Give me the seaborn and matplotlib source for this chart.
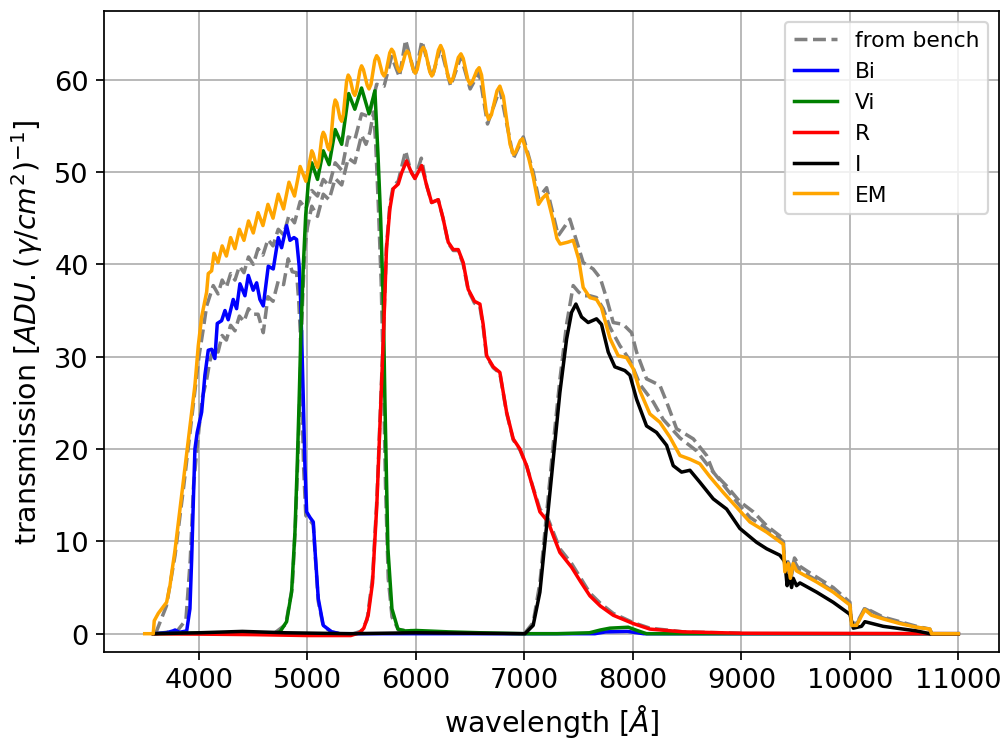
"""Filter transmission curves (Bi, Vi, R, I, EM) with the bench measurements."""
import matplotlib

matplotlib.use("Agg")
import matplotlib.pyplot as plt
import seaborn as sns

# (wavelength [A], transmission)
EM = [(3500, 0.0), (3579, 0.0), (3588, 1.4), (3625, 2.2), (3702, 3.4), (3733, 5.2), (3748, 6.5),
      (3779, 9.0), (3855, 16.4), (3917, 22.5), (3963, 26.9), (3994, 31.2), (4025, 34.3), (4071, 37.0),
      (4086, 39.0), (4117, 39.3), (4139, 41.2), (4176, 40.2), (4214, 42.0), (4253, 40.9), (4292, 42.9),
      (4332, 41.7), (4373, 43.8), (4415, 42.6), (4457, 44.7), (4501, 43.4), (4545, 45.6), (4590, 44.2),
      (4636, 46.5), (4683, 45.0), (4731, 47.6), (4780, 46.0), (4830, 48.9), (4881, 47.4), (4933, 50.6),
      (4986, 49.0), (5040, 52.3), (5053, 52.0), (5080, 50.8), (5093, 50.5), (5106, 51.1), (5133, 53.8),
      (5146, 54.3), (5160, 54.0), (5187, 52.7), (5200, 52.4), (5214, 53.2), (5242, 57.0), (5256, 57.8),
      (5271, 57.5), (5301, 55.8), (5316, 55.5), (5331, 56.2), (5361, 59.8), (5376, 60.5), (5391, 60.2),
      (5422, 58.6), (5437, 58.3), (5452, 58.8), (5484, 61.0), (5499, 61.5), (5516, 61.1), (5551, 59.4),
      (5568, 59.0), (5586, 59.5), (5621, 62.1), (5638, 62.6), (5655, 62.3), (5690, 60.7), (5707, 60.4),
      (5724, 60.8), (5759, 62.9), (5776, 63.3), (5794, 63.0), (5830, 61.3), (5848, 60.9), (5866, 61.2),
      (5902, 62.8), (5920, 63.1), (5938, 62.8), (5975, 61.1), (5993, 60.7), (6012, 61.1), (6048, 63.1),
      (6067, 63.5), (6087, 63.1), (6127, 60.9), (6147, 60.4), (6167, 60.9), (6208, 63.2), (6228, 63.7),
      (6251, 63.1), (6297, 60.3), (6320, 59.7), (6344, 60.2), (6391, 62.4), (6415, 62.8), (6436, 62.3),
      (6479, 60.0), (6500, 59.5), (6521, 59.8), (6562, 61.0), (6583, 61.3), (6605, 60.5), (6648, 56.5),
      (6670, 55.7), (6696, 56.2), (6748, 58.8), (6774, 59.3), (6806, 58.2), (6868, 53.0), (6900, 51.9),
      (6921, 52.2), (6962, 53.4), (6983, 53.6), (7040, 51.5), (7081, 49.5), (7130, 46.5), (7170, 47.2),
      (7205, 47.6), (7260, 45.0), (7300, 42.8), (7330, 42.2), (7400, 42.4), (7450, 42.6), (7500, 40.6),
      (7542, 37.5), (7604, 36.4), (7665, 36.2), (7711, 35.3), (7788, 32.0), (7865, 30.1), (7942, 29.9),
      (8003, 28.7), (8065, 26.3), (8157, 23.8), (8249, 22.9), (8341, 21.3), (8434, 19.3), (8526, 18.9),
      (8618, 18.4), (8710, 17.0), (8833, 15.3), (8956, 13.7), (9079, 12.1), (9233, 11.0), (9386, 9.7),
      (9401, 6.7), (9432, 7.6), (9452, 6.0), (9478, 7.6), (9509, 6.8), (9540, 6.6), (9694, 5.6),
      (9847, 4.5), (10001, 3.1), (10016, 0.9), (10062, 0.9), (10093, 1.6), (10139, 2.6), (10200, 2.0),
      (10307, 1.6), (10461, 1.1), (10615, 0.7), (10738, 0.5), (10753, 0.0), (11000, 0.0)]

BI = [(3580, 0.0), (3700, 0.1), (3760, 0.3), (3780, 0.4), (3820, 0.15), (3887, 0.3), (3917, 2.7),
      (3933, 8.1), (3950, 15.0), (3963, 20.0), (3984, 21.8), (4025, 24.0), (4055, 28.0), (4086, 30.7),
      (4117, 30.8), (4147, 29.8), (4169, 33.6), (4209, 33.9), (4240, 35.0), (4270, 34.0), (4316, 36.2),
      (4347, 35.2), (4378, 37.9), (4424, 36.6), (4455, 38.8), (4500, 37.2), (4532, 38.0), (4562, 36.2),
      (4593, 35.5), (4639, 39.8), (4685, 39.5), (4731, 42.9), (4762, 41.8), (4808, 44.2), (4839, 42.6),
      (4876, 42.9), (4900, 42.7), (4924, 39.8), (4937, 36.2), (4946, 32.6), (4962, 25.4), (4977, 18.2),
      (4993, 13.2), (5023, 12.6), (5054, 12.1), (5069, 9.2), (5100, 3.8), (5146, 0.9), (5223, 0.2),
      (5300, 0.0), (7650, 0.0), (7750, 0.2), (7950, 0.25), (8100, 0.0), (11000, 0.0)]

VI = [(3580, 0.0), (4000, 0.05), (4700, 0.05), (4747, 0.2), (4808, 1.3), (4854, 4.5), (4885, 11.0),
      (4906, 18.2), (4924, 25.4), (4940, 32.6), (4962, 39.8), (4984, 45.3), (5008, 48.8), (5040, 51.0),
      (5093, 49.2), (5146, 52.3), (5200, 50.8), (5256, 54.6), (5316, 53.0), (5380, 58.5), (5437, 56.8),
      (5499, 59.1), (5568, 56.3), (5622, 58.8), (5650, 52.0), (5675, 45.0), (5699, 36.0), (5714, 25.4),
      (5742, 9.2), (5779, 2.7), (5834, 0.5), (5900, 0.3), (6000, 0.35), (6300, 0.2), (6600, 0.1),
      (7000, 0.0), (7300, 0.0), (7600, 0.1), (7700, 0.4), (7788, 0.6), (7957, 0.7), (8050, 0.3),
      (8126, 0.0), (11000, 0.0)]

R = [(3580, 0.0), (4500, -0.1), (5000, -0.2), (5400, -0.2), (5480, 0.1), (5520, 0.6), (5560, 2.0),
     (5600, 5.5), (5640, 14.0), (5670, 23.0), (5700, 32.0), (5729, 41.7), (5760, 46.0), (5791, 48.2),
     (5837, 48.7), (5868, 49.9), (5914, 51.2), (5960, 49.9), (5991, 49.3), (6053, 50.7), (6100, 48.5),
     (6145, 46.7), (6206, 47.0), (6250, 45.0), (6298, 42.4), (6344, 41.6), (6390, 41.6), (6436, 40.2),
     (6482, 37.3), (6540, 36.0), (6590, 35.7), (6620, 33.5), (6652, 30.1), (6713, 28.9), (6774, 28.3),
     (6836, 24.0), (6897, 21.1), (6959, 20.0), (7020, 18.2), (7081, 15.7), (7143, 13.2), (7220, 12.1),
     (7270, 10.5), (7327, 8.8), (7435, 7.2), (7520, 5.6), (7604, 4.1), (7700, 3.0), (7819, 2.0),
     (8003, 1.1), (8157, 0.5), (8464, 0.2), (9000, 0.05), (11000, 0.0)]

I = [(3580, 0.0), (4000, 0.1), (4400, 0.25), (4800, 0.1), (5400, 0.0), (6000, 0.1), (7005, 0.0),
     (7081, 0.9), (7143, 4.5), (7205, 11.7), (7266, 18.9), (7327, 26.1), (7389, 31.9), (7435, 34.8),
     (7475, 35.7), (7527, 34.3), (7588, 33.7), (7665, 34.1), (7711, 33.5), (7773, 30.5), (7834, 28.9),
     (7926, 28.5), (7973, 28.0), (8034, 25.4), (8126, 22.5), (8218, 21.8), (8311, 20.4), (8372, 18.2),
     (8449, 17.5), (8526, 17.7), (8618, 16.4), (8741, 14.6), (8864, 13.5), (8986, 11.4), (9140, 9.9),
     (9233, 9.2), (9355, 8.5), (9401, 7.8), (9422, 5.2), (9440, 6.3), (9463, 5.0), (9478, 6.0),
     (9509, 5.2), (9540, 5.5), (9694, 4.5), (9847, 3.4), (10001, 2.1), (10032, 0.6), (10108, 0.8),
     (10139, 1.3), (10307, 0.8), (10615, 0.3), (10738, 0.0), (11000, 0.0)]

# bench measurements (grey dashed)
BENCH_EM = [(3600, 0.0), (3700, 3.0), (3780, 8.5), (3860, 16.0), (3920, 22.0), (3960, 26.0),
            (4000, 30.0), (4040, 33.0), (4071, 35.5), (4132, 37.7), (4176, 36.8), (4214, 38.3),
            (4253, 37.5), (4292, 39.0), (4332, 38.3), (4373, 39.8), (4415, 39.1), (4457, 40.8),
            (4501, 40.0), (4545, 41.7), (4590, 41.0), (4636, 42.7), (4683, 42.0), (4731, 43.8),
            (4780, 43.2), (4830, 45.3), (4881, 44.5), (4933, 46.8), (4986, 46.0), (5040, 48.0),
            (5093, 47.4), (5146, 49.2), (5200, 48.5), (5256, 51.0), (5316, 50.2), (5376, 53.8),
            (5437, 53.5), (5499, 56.3), (5568, 56.0), (5638, 59.5), (5707, 59.3), (5776, 62.5),
            (5848, 60.3), (5905, 64.3), (5993, 60.4), (6055, 64.2), (6147, 60.2), (6228, 63.5),
            (6320, 59.3), (6415, 62.5), (6500, 59.0), (6583, 60.8), (6660, 55.2), (6774, 59.0),
            (6900, 51.5), (6990, 53.8), (7081, 50.0), (7130, 47.2), (7205, 48.3), (7312, 43.1),
            (7419, 44.9), (7542, 40.2), (7634, 39.5), (7700, 38.5), (7758, 36.3), (7819, 33.7),
            (7911, 33.5), (7988, 32.6), (8034, 30.5), (8126, 27.6), (8249, 26.9), (8311, 25.1),
            (8403, 22.2), (8557, 21.1), (8680, 19.3), (8741, 17.5), (8864, 16.0), (8986, 14.3),
            (9110, 13.2), (9233, 11.7), (9386, 10.3), (9401, 7.2), (9430, 8.0), (9460, 6.5),
            (9490, 8.2), (9540, 7.3), (9617, 6.7), (9847, 5.0), (10001, 3.4), (10016, 1.2),
            (10062, 1.1), (10139, 2.8), (10307, 1.8), (10615, 0.8), (10738, 0.5), (10753, 0.0)]

BENCH_BI = [(3600, 0.0), (3800, 0.3), (3880, 1.5), (3920, 8.0), (3950, 16.0), (3990, 21.0),
            (4030, 25.5), (4071, 27.5), (4100, 29.5), (4139, 31.0), (4176, 30.5), (4214, 32.3),
            (4253, 31.8), (4292, 33.4), (4332, 32.8), (4373, 34.4), (4415, 33.8), (4457, 35.2),
            (4501, 34.6), (4545, 34.6), (4593, 32.6), (4636, 36.5), (4683, 36.0), (4731, 38.2),
            (4780, 37.8), (4823, 40.6), (4860, 39.2), (4900, 39.1), (4920, 36.0), (4935, 32.5),
            (4950, 25.0), (4965, 18.0), (4985, 12.8), (5023, 12.3), (5054, 11.8), (5069, 9.0),
            (5100, 3.5), (5146, 0.8), (5223, 0.2), (5300, 0.0)]

BENCH_VI = [(4700, 0.1), (4800, 1.0), (4860, 5.0), (4890, 12.0), (4915, 20.0), (4935, 28.0),
            (4955, 36.0), (4975, 41.5), (5000, 44.0), (5040, 46.3), (5093, 45.2), (5146, 47.6),
            (5200, 47.0), (5256, 49.3), (5316, 48.6), (5376, 51.5), (5437, 51.0), (5499, 54.0),
            (5540, 53.0), (5576, 54.3), (5610, 56.5), (5630, 53.0), (5655, 46.0), (5680, 38.0),
            (5700, 28.0), (5720, 16.0), (5745, 6.0), (5780, 1.8), (5840, 0.4), (6000, 0.3)]

BENCH_R = [(5400, -0.1), (5500, 0.3), (5550, 1.5), (5600, 6.0), (5640, 14.5), (5670, 23.5),
           (5700, 32.5), (5729, 42.0), (5760, 46.5), (5791, 48.5), (5837, 49.0), (5868, 50.5),
           (5905, 52.3), (5950, 50.2), (5991, 49.3), (6050, 51.5), (6100, 48.5), (6145, 46.7),
           (6206, 47.0), (6250, 45.0), (6298, 42.3), (6344, 41.5), (6390, 41.5), (6436, 40.0),
           (6482, 37.2), (6540, 35.8), (6590, 35.4), (6620, 33.2), (6652, 30.0), (6713, 28.8),
           (6774, 28.2), (6836, 23.9), (6897, 21.0), (6959, 19.9), (7020, 18.2), (7081, 15.8),
           (7143, 13.5), (7220, 12.4), (7270, 10.9), (7327, 9.2), (7435, 7.6), (7520, 6.0),
           (7604, 4.4), (7700, 3.3), (7819, 2.2), (8003, 1.2), (8157, 0.6), (8464, 0.2), (9000, 0.05)]

BENCH_I = [(7000, 0.0), (7081, 1.2), (7143, 5.5), (7205, 13.0), (7266, 20.5), (7327, 27.5),
           (7389, 33.5), (7450, 37.7), (7500, 37.0), (7542, 36.6), (7604, 36.6), (7665, 36.4),
           (7727, 35.2), (7788, 33.2), (7880, 31.2), (7973, 29.6), (8065, 27.0), (8188, 25.1),
           (8280, 23.2), (8434, 21.2), (8587, 19.8), (8680, 18.4), (8803, 16.6), (8956, 14.3),
           (9079, 12.6), (9233, 11.4), (9386, 10.0), (9401, 7.0), (9430, 7.8), (9460, 6.2),
           (9490, 7.8), (9540, 6.8), (9694, 5.8), (9847, 4.6), (10001, 3.2), (10016, 1.0),
           (10062, 1.0), (10139, 2.7), (10307, 1.7), (10615, 0.7), (10738, 0.5), (10753, 0.0)]

BANDS = [("Bi", BI, "blue"), ("Vi", VI, "green"), ("R", R, "red"), ("I", I, "black"),
         ("EM", EM, "orange")]
BENCH = [BENCH_EM, BENCH_BI, BENCH_VI, BENCH_R, BENCH_I]


def _draw(ax, curve, **kws):
    sns.lineplot(x=[p[0] for p in curve], y=[p[1] for p in curve], ax=ax,
                 estimator=None, linewidth=1.6, **kws)


fig, ax = plt.subplots(figsize=(6.395, 4.713), dpi=157)
fig.subplots_adjust(left=0.1036, right=0.995, top=0.984, bottom=0.1176)

for i, curve in enumerate(BENCH):
    extra = {"label": "from bench"} if i == 0 else {}
    _draw(ax, curve, color="gray", linestyle="--", **extra)

for name, curve, color in BANDS:
    _draw(ax, curve, color=color, label=name, solid_joinstyle="round")

ax.set_ylim(-1.98, 67.45)
ax.grid(True)
ax.tick_params(labelsize=12.5)
ax.set_xlabel(r"wavelength [$\AA$]", fontsize=13)
ax.set_ylabel(r"transmission [$ADU.(\gamma/cm^2)^{-1}$]", fontsize=13)
ax.legend(loc="upper right")

fig.savefig("out.png", dpi=157)
